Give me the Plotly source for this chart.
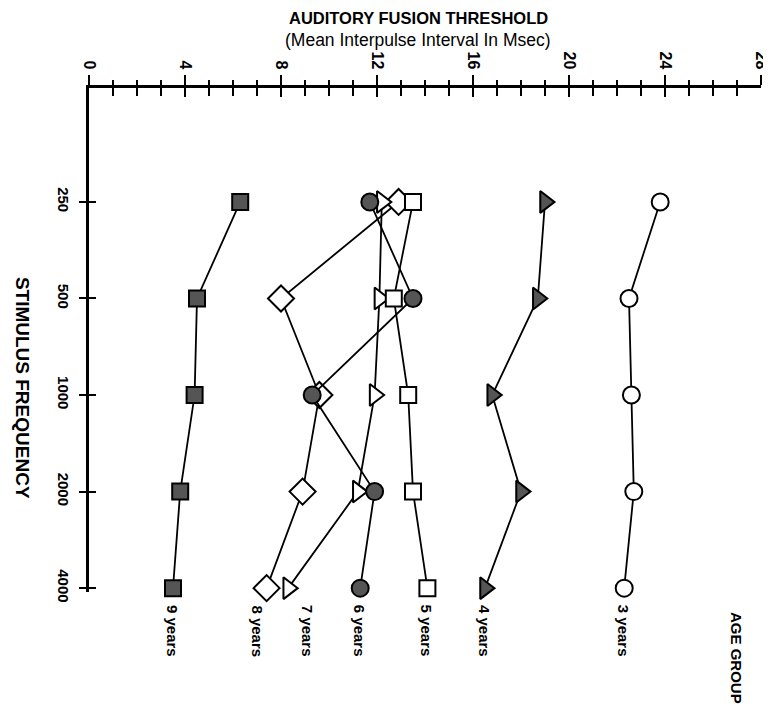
import plotly.graph_objects as go

# ---- data ----
frequencies = ["250", "500", "1000", "2000", "4000"]
age_groups = ["3 years", "4 years", "5 years", "6 years", "7 years", "8 years", "9 years"]

y3 = [23.8, 22.5, 22.6, 22.7, 22.3]
y4 = [19.0, 18.7, 16.8, 18.0, 16.5]
y5 = [13.5, 12.7, 13.3, 13.5, 14.1]
y6 = [11.7, 13.5, 9.3, 11.9, 11.3]
y7 = [12.2, 12.1, 11.9, 11.2, 8.3]
y8 = [12.9, 8.0, 9.6, 8.9, 7.4]
y9 = [6.3, 4.5, 4.4, 3.8, 3.5]

x_ticks = [0, 4, 8, 12, 16, 20, 24, 28]

series = [
    ("8 years", y8, "diamond", "white", 20),
    ("7 years", y7, "triangle-right", "white", 19),
    ("6 years", y6, "circle", "#555555", 17),
    ("5 years", y5, "square", "white", 16),
    ("4 years", y4, "triangle-right", "#555555", 19),
    ("3 years", y3, "circle", "white", 17),
    ("9 years", y9, "square", "#555555", 16),
]

FONT = "Liberation Sans, Arial, sans-serif"
pos = list(range(len(frequencies)))

fig = go.Figure()
for name, vals, sym, fill, size in series:
    fig.add_trace(go.Scatter(
        x=vals, y=pos, mode="lines+markers", name=name,
        line=dict(color="black", width=1.8),
        marker=dict(symbol=sym, size=size, color=fill,
                    line=dict(color="black", width=2)),
        showlegend=False, cliponaxis=False,
    ))

# series labels under the 4000 Hz points
label_shift = {"7 years": 20, "8 years": -9}
for name, vals, sym, fill, size in series:
    fig.add_annotation(
        x=vals[-1], xref="x", y=0, yref="paper", yanchor="top",
        xshift=label_shift.get(name, 0), yshift=-11,
        text=f"<b>{name}</b>", showarrow=False, textangle=90,
        font=dict(family=FONT, size=15, color="black"),
    )

fig.add_annotation(x=1, xref="paper", xanchor="center", xshift=-24, y=0, yref="paper",
                   yanchor="top", yshift=-18,
                   text="<b>AGE GROUP</b>", showarrow=False, textangle=90,
                   font=dict(family=FONT, size=15, color="black"))
fig.add_annotation(x=0, xref="paper", xanchor="center", xshift=-67, y=0.405, yref="paper",
                   yanchor="middle",
                   text="<b>STIMULUS FREQUENCY</b>", showarrow=False, textangle=90,
                   font=dict(family=FONT, size=19, color="black"))
fig.add_annotation(x=0.49, xref="paper", y=1, yref="paper", yanchor="top", yshift=80,
                   borderpad=0,
                   text="<b>AUDITORY FUSION THRESHOLD</b>", showarrow=False,
                   font=dict(family=FONT, size=16.5, color="black"))
fig.add_annotation(x=0.49, xref="paper", y=1, yref="paper", yanchor="top", yshift=59,
                   borderpad=0,
                   text="(Mean Interpulse Interval In Msec)", showarrow=False,
                   font=dict(family=FONT, size=17.5, color="black"))

common_x = dict(range=[0, 28], side="top", showgrid=False, zeroline=False,
                tickmode="array", tickvals=x_ticks)
fig.update_layout(
    width=763, height=699,
    margin=dict(l=81, r=10, t=80, b=115, autoexpand=False),
    paper_bgcolor="white", plot_bgcolor="white",
    font=dict(family=FONT, color="black"),
    xaxis=dict(**common_x, showline=True, linecolor="black", linewidth=3,
               ticks="outside", ticklen=10, tickwidth=2, tickcolor="black",
               ticktext=[f"<b>{v}</b>" for v in x_ticks], tickangle=90,
               tickfont=dict(family=FONT, size=16, color="black"),
               minor=dict(dtick=1, tick0=0, ticks="outside", ticklen=5, tickwidth=1.5, tickcolor="black")),
    xaxis2=dict(**common_x, overlaying="x", anchor="y", matches="x", showline=False,
                ticks="inside", ticklen=9, tickwidth=2, tickcolor="black",
                showticklabels=False,
                minor=dict(dtick=1, tick0=0, ticks="inside", ticklen=8, tickwidth=1.5, tickcolor="black")),
    yaxis=dict(range=[4.04, -1.18], showgrid=False, zeroline=False,
               showline=True, linecolor="black", linewidth=3,
               tickmode="array", tickvals=pos,
               ticktext=[f"<b>{f}</b>" for f in frequencies], tickangle=90,
               ticks="outside", ticklen=7, tickwidth=2, tickcolor="black",
               ticklabelstandoff=3,
               tickfont=dict(family=FONT, size=15, color="black")),
    yaxis2=dict(range=[4.04, -1.18], overlaying="y", anchor="x", matches="y",
                showgrid=False, zeroline=False, showline=False, side="left",
                tickmode="array", tickvals=pos, showticklabels=False,
                ticks="inside", ticklen=7, tickwidth=2, tickcolor="black"),
)
# invisible traces to activate the overlay axes
fig.add_trace(go.Scatter(x=[None], y=[None], xaxis="x2", yaxis="y", showlegend=False, hoverinfo="skip"))
fig.add_trace(go.Scatter(x=[None], y=[None], xaxis="x", yaxis="y2", showlegend=False, hoverinfo="skip"))

fig.write_html("out.html")
